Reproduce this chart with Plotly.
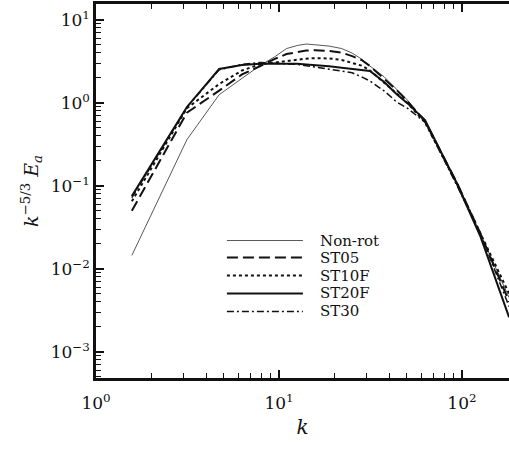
import plotly.graph_objects as go

# wavenumbers
k = [1.57, 3.14, 4.71, 6.28, 7.85, 9.42, 11.0, 12.6, 14.1, 15.7, 18.8, 22.0,
     25.1, 28.3, 31.4, 37.7, 44.0, 50.3, 56.5, 62.8, 94.0, 125.7, 181.0]

non_rot = [0.0145, 0.36, 1.25, 1.95, 2.8, 3.55, 4.5, 4.9, 5.1, 5.0, 4.82, 4.5,
           3.97, 3.36, 2.77, 2.04, 1.46, 1.08, 0.77, 0.585, 0.11, 0.027, 0.0045]
st05 = [0.05, 0.76, 1.4, 2.2, 2.75, 3.35, 3.86, 4.08, 4.25, 4.3, 4.2, 4.02,
        3.65, 3.27, 2.77, 1.93, 1.42, 1.05, 0.77, 0.60, 0.108, 0.027, 0.0040]
st10f = [0.065, 0.86, 1.68, 2.45, 2.9, 3.05, 3.2, 3.3, 3.4, 3.45, 3.42, 3.28,
         3.05, 2.8, 2.45, 1.73, 1.3, 1.0, 0.75, 0.58, 0.105, 0.027, 0.0050]
st20f = [0.075, 0.89, 2.55, 2.85, 2.95, 2.95, 3.0, 2.95, 2.9, 2.85, 2.75, 2.64,
         2.55, 2.47, 2.41, 1.77, 1.27, 0.99, 0.77, 0.62, 0.105, 0.025, 0.0026]
st30 = [0.072, 0.88, 2.5, 2.9, 3.05, 3.0, 2.95, 2.9, 2.8, 2.7, 2.55, 2.45,
        2.3, 2.05, 1.83, 1.38, 1.02, 0.86, 0.71, 0.585, 0.10, 0.027, 0.0035]

names = ["Non-rot", "ST05", "ST10F", "ST20F", "ST30"]
series = [non_rot, st05, st10f, st20f, st30]
dashes = ["solid", "11px,5px", "3px,3px", "solid", "7px,3px,2px,3px"]
widths = [0.9, 2.0, 2.0, 2.0, 1.5]
colors = ["#444444", "#111111", "#111111", "#111111", "#111111"]

xtick_vals = [1, 10, 100]
xtick_text = ["10<sup>0</sup>", "10<sup>1</sup>", "10<sup>2</sup>"]
ytick_vals = [1e-3, 1e-2, 1e-1, 1, 10]
ytick_text = ["10<sup>−3</sup>", "10<sup>−2</sup>", "10<sup>−1</sup>",
              "10<sup>0</sup>", "10<sup>1</sup>"]
x_minor = [2, 3, 4, 5, 6, 7, 8, 9, 20, 30, 40, 50, 60, 70, 80, 90]
y_minor = [0.0005, 0.0006, 0.0007, 0.0008, 0.0009,
           0.002, 0.003, 0.004, 0.005, 0.006, 0.007, 0.008, 0.009,
           0.02, 0.03, 0.04, 0.05, 0.06, 0.07, 0.08, 0.09,
           0.2, 0.3, 0.4, 0.5, 0.6, 0.7, 0.8, 0.9,
           2, 3, 4, 5, 6, 7, 8, 9]

font = "DejaVu Serif"
ink = "#111111"
xr = [0, 2.257]
yr = [-3.316, 1.19]

fig = go.Figure()
for name, y, d, w, c in zip(names, series, dashes, widths, colors):
    fig.add_trace(go.Scatter(x=k, y=y, mode="lines", name=name,
                             line=dict(color=c, width=w, dash=d),
                             showlegend=False))
# empty trace so the minor-tick overlay axes are drawn
fig.add_trace(go.Scatter(x=[], y=[], xaxis="x2", yaxis="y2",
                         showlegend=False, hoverinfo="skip"))

leg_y = [0.3676, 0.322, 0.274, 0.226, 0.178]
shapes = []
annotations = []
for name, d, w, c, yy in zip(names, dashes, widths, colors, leg_y):
    shapes.append(dict(type="line", xref="paper", yref="paper",
                       x0=0.317, x1=0.501, y0=yy, y1=yy,
                       line=dict(color=c, width=w, dash=d)))
    annotations.append(dict(xref="paper", yref="paper", x=0.5375, y=yy,
                            text=name, showarrow=False, xanchor="left",
                            yanchor="middle",
                            font=dict(family=font, size=15, color=ink)))

fig.update_layout(
    width=509, height=449,
    margin=dict(l=96, r=0, t=4, b=71),
    paper_bgcolor="white", plot_bgcolor="white",
    font=dict(family=font, size=16, color=ink),
    shapes=shapes, annotations=annotations,
    xaxis=dict(type="log", range=xr, tickvals=xtick_vals, ticktext=xtick_text,
               ticks="inside", ticklen=8, tickwidth=1.5, tickcolor=ink,
               showline=True, linewidth=2.5, linecolor=ink, mirror="ticks",
               showgrid=False, zeroline=False, ticklabelstandoff=8,
               tickfont=dict(family=font, size=17, color=ink),
               title=dict(text="<i>k</i>", font=dict(family=font, size=20, color=ink),
                          standoff=8)),
    yaxis=dict(type="log", range=yr, tickvals=ytick_vals, ticktext=ytick_text,
               ticks="inside", ticklen=8, tickwidth=1.5, tickcolor=ink,
               showline=True, linewidth=2.5, linecolor=ink, mirror=False,
               showgrid=False, zeroline=False,
               tickfont=dict(family=font, size=17, color=ink),
               title=dict(text="<i>k</i><sup>−5/3</sup> <i>E<sub>a</sub></i>",
                          font=dict(family=font, size=19, color=ink), standoff=8)),
    xaxis2=dict(type="log", range=xr, overlaying="x", anchor="y2", side="bottom",
                tickvals=x_minor, ticks="inside", ticklen=5, tickwidth=1.2,
                tickcolor=ink, showticklabels=False, showline=False,
                mirror="ticks", showgrid=False, zeroline=False),
    yaxis2=dict(type="log", range=yr, overlaying="y", anchor="x2", side="left",
                tickvals=y_minor, ticks="inside", ticklen=5, tickwidth=1.2,
                tickcolor=ink, showticklabels=False, showline=False,
                showgrid=False, zeroline=False),
)

fig.write_html("out.html")
